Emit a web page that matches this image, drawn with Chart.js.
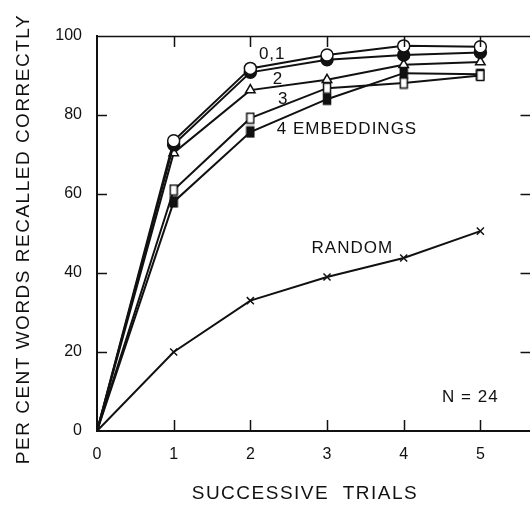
<!DOCTYPE html>
<html>
<head>
<meta charset="utf-8">
<script src="https://cdn.jsdelivr.net/npm/chart.js@4.4.1/dist/chart.umd.min.js"></script>
<style>
  html, body { margin: 0; padding: 0; background: #fff; overflow: hidden; }
  #wrap { width: 530px; height: 508px; overflow: hidden; }
</style>
</head>
<body>
<div id="wrap"><canvas id="recallChart" width="540" height="508"></canvas></div>
<script>
// trials and percentage of words recalled on each trial
const trials = [0, 1, 2, 3, 4, 5];
const emb0 = [0, 73.5, 91.8, 95.2, 97.5, 97.3];
const emb1 = [0, 72.5, 90.8, 94.0, 95.2, 95.8];
const emb2 = [0, 70.4, 86.3, 88.9, 92.7, 93.4];
const emb3 = [0, 61.0, 79.2, 86.8, 88.1, 90.0];
const emb4 = [0, 58.0, 75.7, 84.0, 90.6, 90.3];
const randomOrder = [0, 20.0, 33.0, 39.0, 43.8, 50.6];

const xTicks = [0, 1, 2, 3, 4, 5];
const yTicks = [0, 20, 40, 60, 80, 100];

// text written inside the plot, placed in data units
const notes = [
  { text: "0,1", x: 2.285, y: 95.4 },
  { text: "2", x: 2.36, y: 89.1 },
  { text: "3", x: 2.43, y: 84.0 },
  { text: "4 EMBEDDINGS", x: 3.26, y: 76.5 },
  { text: "RANDOM", x: 3.33, y: 46.3 },
  { text: "N = 24", x: 4.87, y: 8.6 }
];

const INK = "#111";
const FONT = "'Liberation Sans', Arial, sans-serif";

// tall rectangles for the square markers
function squareMark(filled) {
  let c = document.createElement("canvas");
  c.width = 10;
  c.height = 13;
  let g = c.getContext("2d");
  g.fillStyle = filled ? INK : "#fff";
  g.fillRect(1.5, 1.5, 7, 10);
  g.strokeStyle = INK;
  g.lineWidth = 1.5;
  g.strokeRect(1.5, 1.5, 7, 10);
  return c;
}

function pts(arr) {
  return arr.map((v, i) => ({ x: trials[i], y: v }));
}

function series(arr, style, fill, radius) {
  return {
    data: pts(arr),
    borderColor: INK,
    borderWidth: 2,
    pointStyle: style,
    // no marker at the origin
    pointRadius: arr.map((v, i) => i === 0 ? 0 : radius),
    pointBackgroundColor: fill,
    pointBorderColor: INK,
    pointBorderWidth: 1.5,
    tension: 0
  };
}

const datasets = [
  series(emb0, "circle", "#fff", 6),
  series(emb1, "circle", INK, 6),
  series(emb2, "triangle", "#fff", 5.5),
  series(emb3, squareMark(false), "#fff", 5),
  series(emb4, squareMark(true), INK, 5),
  series(randomOrder, "crossRot", INK, 5)
];

const frame = {
  id: "frame",
  afterDraw(chart) {
    const ctx = chart.ctx;
    const a = chart.chartArea;
    const xs = chart.scales.x;
    const ys = chart.scales.y;
    ctx.save();
    ctx.strokeStyle = INK;

    // top edge and right edge
    ctx.lineWidth = 1.5;
    ctx.beginPath();
    ctx.moveTo(a.left, a.top + 0.5);
    ctx.lineTo(a.right, a.top + 0.5);
    ctx.moveTo(a.right - 0.5, a.top);
    ctx.lineTo(a.right - 0.5, a.bottom);
    ctx.stroke();

    // inward tick marks on all four sides
    ctx.beginPath();
    xTicks.slice(1).forEach(v => {
      let px = Math.round(xs.getPixelForValue(v)) + 0.5;
      ctx.moveTo(px, a.bottom);
      ctx.lineTo(px, a.bottom - 11);
      ctx.moveTo(px, a.top);
      ctx.lineTo(px, a.top + 11);
    });
    yTicks.slice(1, -1).forEach(v => {
      let py = Math.round(ys.getPixelForValue(v)) + 0.5;
      ctx.moveTo(a.left, py);
      ctx.lineTo(a.left + 10, py);
      ctx.moveTo(a.right, py);
      ctx.lineTo(a.right - 12, py);
    });
    ctx.stroke();

    // labels inside the plot
    ctx.fillStyle = INK;
    ctx.textAlign = "center";
    ctx.textBaseline = "middle";
    ctx.font = "17px " + FONT;
    ctx.letterSpacing = "1px";
    notes.forEach(n => {
      ctx.fillText(n.text, xs.getPixelForValue(n.x), ys.getPixelForValue(n.y));
    });

    // axis titles
    ctx.font = "19px " + FONT;
    ctx.letterSpacing = "1.5px";
    ctx.fillText("SUCCESSIVE  TRIALS", 305, 494);
    ctx.translate(24, 239);
    ctx.rotate(-Math.PI / 2);
    ctx.fillText("PER CENT WORDS RECALLED CORRECTLY", 0, 0);
    ctx.restore();
  }
};

new Chart(document.getElementById("recallChart"), {
  type: "line",
  data: { datasets: datasets },
  options: {
    responsive: false,
    animation: false,
    devicePixelRatio: 1,
    layout: { padding: { top: 36, right: 0, left: 0, bottom: 0 } },
    plugins: {
      legend: { display: false },
      tooltip: { enabled: false }
    },
    scales: {
      x: {
        type: "linear",
        min: 0,
        max: 5.68,
        afterBuildTicks: s => { s.ticks = xTicks.map(v => ({ value: v })); },
        afterFit: s => { s.height = 77; },
        grid: { display: true, drawOnChartArea: false, drawTicks: false },
        border: { display: true, color: INK, width: 2 },
        ticks: { color: INK, font: { family: FONT, size: 16 }, padding: 14 }
      },
      y: {
        type: "linear",
        min: 0,
        max: 100,
        afterBuildTicks: s => { s.ticks = yTicks.map(v => ({ value: v })); },
        afterFit: s => { s.width = 97; },
        grid: { display: true, drawOnChartArea: false, drawTicks: false },
        border: { display: true, color: INK, width: 2 },
        ticks: { color: INK, font: { family: FONT, size: 16 }, padding: 15 }
      }
    }
  },
  plugins: [frame]
});
</script>
</body>
</html>
